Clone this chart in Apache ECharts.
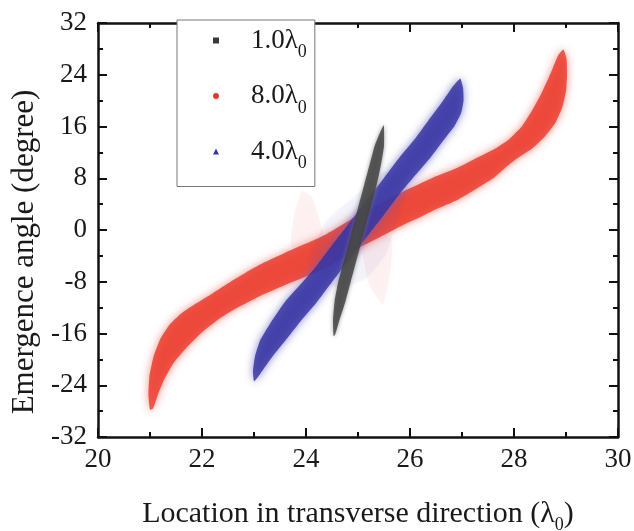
<!DOCTYPE html>
<html>
<head>
<meta charset="utf-8">
<script src="https://cdn.jsdelivr.net/npm/echarts@6/dist/echarts.min.js"></script>
<style>
html,body{margin:0;padding:0;background:#fff;}
#chart{width:634px;height:531px;}
</style>
</head>
<body>
<div id="chart"></div>
<script>
// ---- axes ----
const xMin = 20, xMax = 30, xStep = 2;
const yMin = -32, yMax = 32, yStep = 8;
const xTitleMain = 'Location in transverse direction (λ';
const yTitle = 'Emergence angle (degree)';

// ---- legend / series names ----
const names = ['1.0λ0', '8.0λ0', '4.0λ0'];

// ---- band outlines (x in λ0, y in degree) ----
// 8.0λ0 (red): tip, along upper-left edge to the other tip, back along lower-right edge
const red8 = [
  [21.00,-27.8],[20.97,-25.5],[20.99,-22.5],[21.07,-19.5],[21.20,-16.8],[21.38,-14.6],
  [21.60,-12.9],[21.90,-11.3],[22.20,-9.8],[22.55,-8.0],[22.90,-6.3],[23.20,-5.0],
  [23.60,-3.5],[24.00,-2.1],[24.40,-0.6],[24.80,1.3],[25.00,2.3],[25.40,4.0],
  [25.80,5.7],[26.20,7.2],[26.50,8.3],[26.90,9.6],[27.20,10.8],[27.60,12.4],
  [27.90,14.0],[28.15,16.0],[28.35,18.5],[28.55,21.5],[28.72,24.5],[28.85,27.0],[28.95,27.9],
  [29.01,26.5],[29.02,24.0],[29.00,21.5],[28.93,19.0],[28.80,16.6],[28.60,14.5],
  [28.35,12.6],[28.05,11.0],[27.80,9.4],[27.60,8.0],[27.20,6.0],[26.90,4.6],[26.50,3.2],
  [26.20,2.0],[25.80,0.5],[25.40,-1.2],[25.00,-2.8],[24.80,-3.8],[24.40,-5.8],
  [24.00,-7.2],[23.60,-8.5],[23.20,-9.9],[22.90,-11.1],[22.55,-12.6],[22.30,-13.9],
  [22.00,-15.8],[21.70,-18.2],[21.45,-20.6],[21.28,-23.0],[21.15,-25.5],[21.06,-27.6]
];
// 4.0λ0 (blue)
const blue4 = [
  [23.00,-23.4],[22.98,-21.8],[23.02,-19.5],[23.12,-17.0],[23.30,-14.6],[23.60,-11.05],
  [23.90,-8.35],[24.20,-5.55],[24.50,-2.35],[24.80,0.75],[25.00,2.85],[25.20,4.95],
  [25.50,8.05],[25.80,11.25],[26.10,14.15],[26.35,16.9],[26.60,19.6],[26.78,21.7],
  [26.90,22.9],[26.97,23.4],
  [27.02,22.0],[27.03,20.0],[26.98,18.0],[26.85,16.0],[26.70,14.45],[26.40,11.25],
  [26.10,8.45],[25.80,5.55],[25.50,2.35],[25.20,-0.75],[25.00,-2.85],[24.80,-4.95],
  [24.50,-8.05],[24.20,-11.25],[23.90,-14.05],[23.65,-16.6],[23.40,-19.1],[23.20,-21.3],
  [23.07,-22.8]
];
// 1.0λ0 (black)
const black1 = [
  [24.53,-16.4],[24.52,-14.0],[24.55,-11.0],[24.62,-8.0],[24.72,-5.0],[24.82,-2.0],
  [24.92,1.0],[25.02,4.0],[25.12,7.0],[25.22,10.0],[25.32,13.0],[25.42,15.0],[25.49,16.2],
  [25.50,16.0],[25.50,13.0],[25.44,10.0],[25.36,7.0],[25.26,4.0],[25.16,1.0],
  [25.06,-2.0],[24.96,-5.0],[24.86,-8.0],[24.76,-11.0],[24.64,-14.0],[24.56,-16.2]
];
// faint scattered outliers
const redFuzzA = [[23.72,-2.5],[23.78,2.5],[23.92,6.0],[24.12,5.0],[24.30,0.5],[24.35,-2.0]];
const redFuzzB = [[25.25,0.0],[25.65,-1.5],[25.62,-6.5],[25.48,-11.5],[25.22,-8.5],[25.08,-3.0]];
const blueFuzz = [[24.05,-5.0],[24.40,1.5],[24.90,5.0],[25.50,9.0],[25.95,7.0],[25.75,1.5],
                  [25.55,-3.5],[25.15,-7.5],[24.60,-9.0]];

const RED = '#e8392c', BLUE = '#3b38a6', BLACK = '#3a3a3a';
const SERIF = '"Liberation Serif", "Times New Roman", serif';

function band(outline, fill, glow, blur) {
  return function (params, api) {
    if (params.dataIndex !== 0) return null;
    const pts = outline.map(p => api.coord(p));
    return {
      type: 'polygon',
      shape: { points: pts, smooth: 0.15 },
      style: { fill: fill, shadowBlur: blur, shadowColor: glow }
    };
  };
}

function bandSeries(name, outline, color, fill, glow, blur, z) {
  return {
    type: 'custom', name: name, coordinateSystem: 'cartesian2d',
    data: outline, encode: { x: 0, y: 1 },
    itemStyle: { color: color }, z: z, silent: true, clip: true,
    renderItem: band(outline, fill, glow, blur)
  };
}

const axisCommon = {
  axisLine: { onZero: false, lineStyle: { color: '#111', width: 2.5 } },
  axisTick: { inside: true, length: 9, lineStyle: { color: '#111', width: 2 } },
  minorTick: { show: true, splitNumber: 2, length: 5, lineStyle: { color: '#111', width: 2 } },
  splitLine: { show: false }
};
const labelFont = { fontFamily: SERIF, fontSize: 27, color: '#1a1a1a' };

const chart = echarts.init(document.getElementById('chart'), null, { renderer: 'canvas' });
chart.setOption({
  animation: false,
  backgroundColor: '#fff',
  grid: { left: 98, right: 16, top: 23, bottom: 94, containLabel: false, outerBoundsMode: 'none' },
  xAxis: [
    Object.assign({ type: 'value', min: xMin, max: xMax, interval: xStep, position: 'bottom',
      name: '{a|' + xTitleMain + '}{s|0}{a|)}', nameLocation: 'middle', nameGap: 57,
      nameTextStyle: { fontFamily: SERIF, fontSize: 30, color: '#1a1a1a',
        rich: { a: { fontFamily: SERIF, fontSize: 30, color: '#1a1a1a' },
                s: { fontFamily: SERIF, fontSize: 18, color: '#1a1a1a', padding: [22, 0, 0, 0] } } },
      axisLabel: Object.assign({ margin: 9 }, labelFont) }, axisCommon),
    Object.assign({ type: 'value', min: xMin, max: xMax, interval: xStep, position: 'top',
      axisLabel: { show: false } }, axisCommon)
  ],
  yAxis: [
    Object.assign({ type: 'value', min: yMin, max: yMax, interval: yStep, position: 'left',
      name: yTitle, nameLocation: 'middle', nameGap: 58,
      nameTextStyle: { fontFamily: SERIF, fontSize: 31, color: '#1a1a1a', padding: [0, 44, 0, 0] },
      axisLabel: Object.assign({ margin: 11 }, labelFont) }, axisCommon),
    Object.assign({ type: 'value', min: yMin, max: yMax, interval: yStep, position: 'right',
      axisLabel: { show: false } }, axisCommon)
  ],
  legend: {
    orient: 'vertical', left: 177, top: 20, z: 20,
    backgroundColor: '#fff', borderColor: '#777', borderWidth: 1,
    padding: [7, 8, 14, 36], itemGap: 21, itemWidth: 6, itemHeight: 6,
    data: [
      { name: names[0], icon: 'rect' },
      { name: names[1], icon: 'circle' },
      { name: names[2], icon: 'triangle' }
    ],
    formatter: function (n) { return '{a|' + n.slice(0, -1) + '}{s|0}'; },
    textStyle: {
      padding: [0, 0, 0, 27],
      rich: {
        a: { fontFamily: SERIF, fontSize: 27, color: '#1a1a1a', lineHeight: 30 },
        s: { fontFamily: SERIF, fontSize: 18, color: '#1a1a1a', padding: [24, 0, 0, 0] }
      }
    }
  },
  series: [
    bandSeries(names[1] + ' fuzzA', redFuzzA, RED, 'rgba(240,90,80,0.07)', 'rgba(240,90,80,0.22)', 14, 1),
    bandSeries(names[1] + ' fuzzB', redFuzzB, RED, 'rgba(240,90,80,0.07)', 'rgba(240,90,80,0.22)', 14, 1),
    bandSeries(names[1], red8, RED, 'rgba(234,55,40,0.8)', 'rgba(242,100,90,0.9)', 9, 2),
    bandSeries(names[2] + ' fuzz', blueFuzz, BLUE, 'rgba(80,80,190,0.06)', 'rgba(80,80,190,0.2)', 14, 3),
    bandSeries(names[2], blue4, BLUE, 'rgba(52,50,160,0.82)', 'rgba(95,95,195,0.9)', 8, 4),
    bandSeries(names[0], black1, BLACK, 'rgba(65,65,65,0.82)', 'rgba(120,120,120,0.9)', 4, 5)
  ]
});
</script>
</body>
</html>
